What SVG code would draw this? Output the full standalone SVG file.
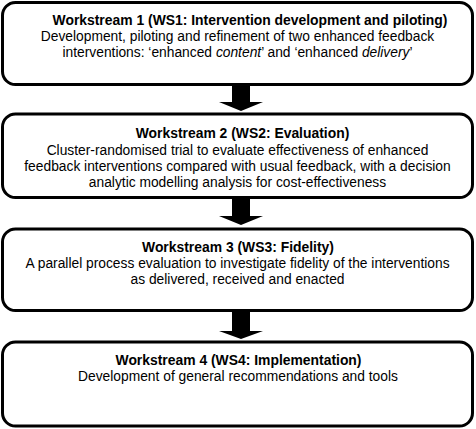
<svg xmlns="http://www.w3.org/2000/svg" width="476" height="429" viewBox="0 0 476 429">
<style>
.box{fill:#fff;stroke:#000;stroke-width:3}
.t{font-family:"Liberation Sans",Arial,sans-serif;font-size:13.9px;font-weight:bold;fill:#000;text-anchor:middle}
.b{font-family:"Liberation Sans",Arial,sans-serif;font-size:13.8px;fill:#000;text-anchor:middle}
.i{font-style:italic}
.arr{fill:#000}
</style>
<rect width="476" height="429" fill="#fff"/>
<g id="ws1">
<rect class="box" x="2.5" y="2.5" width="470" height="82" rx="13"/>
<text class="t" x="250" y="25">Workstream 1 (WS1: Intervention development and piloting)</text>
<text class="b" x="237.5" y="41">Development, piloting and refinement of two enhanced feedback</text>
<text class="b" x="237.5" y="57">interventions: ‘enhanced <tspan class="i">content</tspan>’ and ‘enhanced <tspan class="i">delivery</tspan>’</text>
</g>
<g id="ws2">
<rect class="box" x="2.5" y="114" width="470" height="83.5" rx="13"/>
<text class="t" x="242.5" y="138">Workstream 2 (WS2: Evaluation)</text>
<text class="b" x="237.5" y="154.5">Cluster-randomised trial to evaluate effectiveness of enhanced</text>
<text class="b" x="237.5" y="171">feedback interventions compared with usual feedback, with a decision</text>
<text class="b" x="237.5" y="187">analytic modelling analysis for cost-effectiveness</text>
</g>
<g id="ws3">
<rect class="box" x="2.5" y="229" width="470" height="81.5" rx="13"/>
<text class="t" x="238" y="252">Workstream 3 (WS3: Fidelity)</text>
<text class="b" x="237.5" y="268">A parallel process evaluation to investigate fidelity of the interventions</text>
<text class="b" x="237.5" y="284">as delivered, received and enacted</text>
</g>
<g id="ws4">
<rect class="box" x="2.5" y="342" width="470" height="84" rx="13"/>
<text class="t" x="238.5" y="365">Workstream 4 (WS4: Implementation)</text>
<text class="b" x="238" y="381">Development of general recommendations and tools</text>
</g>
<g id="connectors">
<polygon class="arr" points="232,84 250,84 250,102 263,102 241,111 219,102 232,102"/>
<polygon class="arr" points="232,197 250,197 250,216 263,216 241,225 219,216 232,216"/>
<polygon class="arr" points="232,310 250,310 250,331 263,331 241,339 219,331 232,331"/>
</g>
</svg>
